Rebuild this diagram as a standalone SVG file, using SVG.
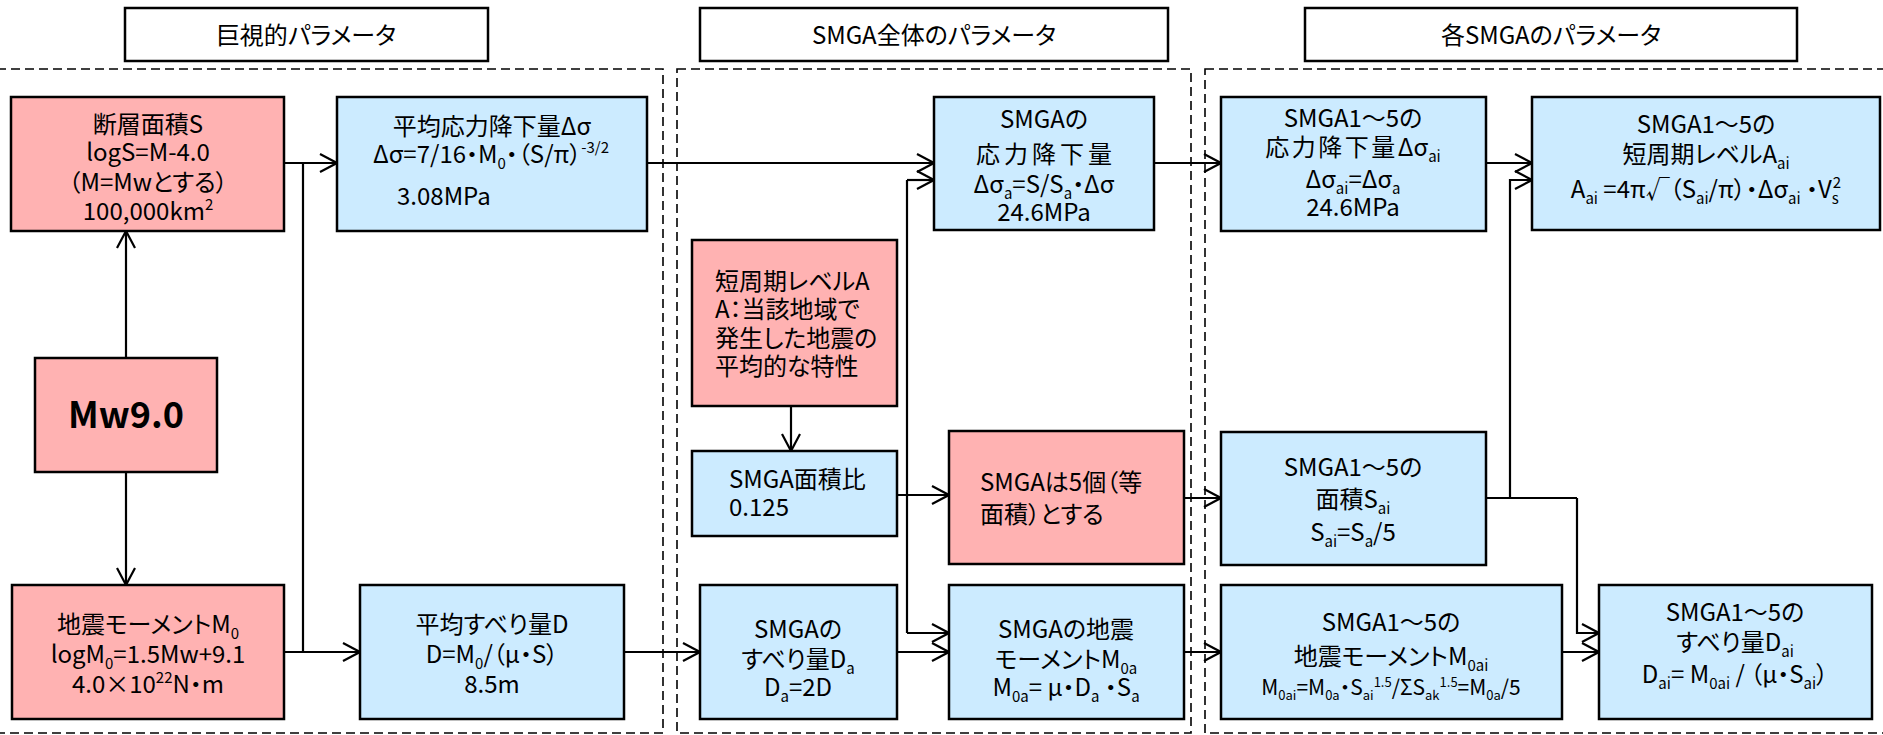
<svg xmlns="http://www.w3.org/2000/svg" width="1883" height="735" viewBox="0 0 1883 735">
<style>
.t{font-family:'Noto Sans CJK JP','Noto Sans',sans-serif;font-size:24px;fill:#000;font-feature-settings:'palt'}
.c{text-anchor:middle}
.s{font-size:15px}
.f{font-size:21px}
.fs{font-size:13px}
.b{font-weight:bold;font-size:36px}
.pk{fill:#FFB2B2;stroke:#000;stroke-width:2.5}
.bl{fill:#CCEBFF;stroke:#000;stroke-width:2.5}
.ti{fill:#fff;stroke:#000;stroke-width:2.5}
.reg{fill:none;stroke:#000;stroke-width:1.6;stroke-dasharray:9 5}
.ln{fill:none;stroke:#000;stroke-width:2.2}
.ar{fill:none;stroke:#000;stroke-width:2.2;marker-end:url(#ah)}
</style>
<defs>
<marker id="ah" viewBox="0 0 20 20" markerWidth="20" markerHeight="20" refX="18" refY="10" markerUnits="userSpaceOnUse" orient="auto">
<path d="M1,1 L18,10 L1,19" fill="none" stroke="#000" stroke-width="2.2"/>
</marker>
</defs>
<rect width="1883" height="735" fill="#fff"/>

<g id="regions">
<rect class="reg" x="-3" y="69" width="666" height="664"/>
<rect class="reg" x="677" y="69" width="514" height="664"/>
<rect class="reg" x="1205" y="69" width="690" height="664"/>
</g>

<g id="title1"><rect class="ti" x="125" y="8" width="363" height="53"/><text class="t c" x="306" y="44">巨視的パラメータ</text></g>
<g id="title2"><rect class="ti" x="700" y="8" width="468" height="53"/><text class="t c" x="934" y="44">SMGA全体のパラメータ</text></g>
<g id="title3"><rect class="ti" x="1305" y="8" width="492" height="53"/><text class="t c" x="1551" y="44">各SMGAのパラメータ</text></g>

<g id="connectors">
<path class="ar" d="M126,358 V231"/>
<path class="ar" d="M126,472 V585"/>
<path class="ar" d="M284,163 H337"/>
<path class="ln" d="M303,163 V652"/>
<path class="ar" d="M284,652 H360"/>
<path class="ar" d="M647,163 H934"/>
<path class="ar" d="M624,652 H700"/>
<path class="ar" d="M791,406 V451"/>
<path class="ar" d="M897,495 H949"/>
<path class="ln" d="M907,180 V633"/>
<path class="ar" d="M907,180 H934"/>
<path class="ar" d="M907,633 H949"/>
<path class="ar" d="M897,652 H949"/>
<path class="ar" d="M1154,163 H1221"/>
<path class="ar" d="M1184,498 H1221"/>
<path class="ar" d="M1184,652 H1221"/>
<path class="ar" d="M1486,163 H1532"/>
<path class="ln" d="M1486,498 H1577"/>
<path class="ar" d="M1510,498 V180 H1532"/>
<path class="ar" d="M1577,498 V633 H1599"/>
<path class="ar" d="M1562,652 H1599"/>
</g>

<g id="n_S">
<rect class="pk" x="11" y="97" width="273" height="134"/>
<text class="t c" x="148" y="133">断層面積S</text>
<text class="t c" x="148" y="161">logS=M-4.0</text>
<text class="t c" x="148" y="191">（M=Mwとする）</text>
<text class="t c" x="148" y="220">100,000km<tspan class="s" dy="-10">2</tspan></text>
</g>

<g id="n_Mw">
<rect class="pk" x="35" y="358" width="182" height="114"/>
<text class="t c b" x="126" y="428">Mw9.0</text>
</g>

<g id="n_M0">
<rect class="pk" x="12" y="585" width="272" height="134"/>
<text class="t c" x="148" y="633">地震モーメントM<tspan class="s" dy="6">0</tspan></text>
<text class="t c" x="148" y="663">logM<tspan class="s" dy="6">0</tspan><tspan dy="-6">=1.5Mw+9.1</tspan></text>
<text class="t c" x="148" y="693">4.0×10<tspan class="s" dy="-10">22</tspan><tspan dy="10">N・m</tspan></text>
</g>

<g id="n_dsigma">
<rect class="bl" x="337" y="97" width="310" height="134"/>
<text class="t c" x="492" y="135">平均応力降下量Δσ</text>
<text class="t c" x="491" y="163">Δσ=7/16・M<tspan class="s" dy="6">0</tspan><tspan dy="-6">・（S/π）</tspan><tspan class="s" dy="-10">-3/2</tspan></text>
<text class="t" x="397" y="205">3.08MPa</text>
</g>

<g id="n_D">
<rect class="bl" x="360" y="585" width="264" height="134"/>
<text class="t c" x="492" y="633">平均すべり量D</text>
<text class="t c" x="492" y="663">D=M<tspan class="s" dy="6">0</tspan><tspan dy="-6">/（μ・S）</tspan></text>
<text class="t c" x="492" y="693">8.5m</text>
</g>

<g id="n_A">
<rect class="pk" x="692" y="240" width="205" height="166"/>
<text class="t" x="715" y="290">短周期レベルA</text>
<text class="t" x="715" y="318">A：当該地域で</text>
<text class="t" x="715" y="347">発生した地震の</text>
<text class="t" x="715" y="375">平均的な特性</text>
</g>

<g id="n_ratio">
<rect class="bl" x="692" y="451" width="205" height="85"/>
<text class="t" x="729" y="488">SMGA面積比</text>
<text class="t" x="729" y="516">0.125</text>
</g>

<g id="n_five">
<rect class="pk" x="949" y="431" width="235" height="133"/>
<text class="t" x="980" y="491">SMGAは5個（等</text>
<text class="t" x="980" y="523">面積）とする</text>
</g>

<g id="n_sa">
<rect class="bl" x="934" y="97" width="220" height="133"/>
<text class="t c" x="1044" y="128">SMGAの</text>
<text class="t c" x="1046" y="163" letter-spacing="4">応力降下量</text>
<text class="t c" x="1044" y="193">Δσ<tspan class="s" dy="6">a</tspan><tspan dy="-6">=S/S</tspan><tspan class="s" dy="6">a</tspan><tspan dy="-6">・Δσ</tspan></text>
<text class="t c" x="1044" y="221">24.6MPa</text>
</g>

<g id="n_Da">
<rect class="bl" x="700" y="585" width="197" height="134"/>
<text class="t c" x="798" y="638">SMGAの</text>
<text class="t c" x="798" y="668">すべり量D<tspan class="s" dy="6">a</tspan></text>
<text class="t c" x="798" y="696">D<tspan class="s" dy="6">a</tspan><tspan dy="-6">=2D</tspan></text>
</g>

<g id="n_M0a">
<rect class="bl" x="949" y="585" width="235" height="134"/>
<text class="t c" x="1066" y="638">SMGAの地震</text>
<text class="t c" x="1066" y="668">モーメントM<tspan class="s" dy="6">0a</tspan></text>
<text class="t c" x="1066" y="696">M<tspan class="s" dy="6">0a</tspan><tspan dy="-6">= μ・D</tspan><tspan class="s" dy="6">a</tspan><tspan dy="-6"> ・S</tspan><tspan class="s" dy="6">a</tspan></text>
</g>

<g id="n_sai">
<rect class="bl" x="1221" y="97" width="265" height="134"/>
<text class="t c" x="1353" y="127">SMGA1～5の</text>
<text class="t c" x="1353" y="156"><tspan letter-spacing="2.5">応力降下量</tspan>Δσ<tspan class="s" dy="6">ai</tspan></text>
<text class="t c" x="1353" y="188">Δσ<tspan class="s" dy="6">ai</tspan><tspan dy="-6">=Δσ</tspan><tspan class="s" dy="6">a</tspan></text>
<text class="t c" x="1353" y="216">24.6MPa</text>
</g>

<g id="n_Aai">
<rect class="bl" x="1532" y="97" width="348" height="133"/>
<text class="t c" x="1706" y="133">SMGA1～5の</text>
<text class="t c" x="1706" y="163">短周期レベルA<tspan class="s" dy="6">ai</tspan></text>
<text class="t c" x="1706" y="198">A<tspan class="s" dy="6">ai</tspan><tspan dy="-6"> =4π√（S</tspan><tspan class="s" dy="6">ai</tspan><tspan dy="-6">/π）・Δσ</tspan><tspan class="s" dy="6">ai</tspan><tspan dy="-6"> ・V</tspan><tspan class="s" dy="6">s</tspan><tspan class="s" dx="-6" dy="-16">2</tspan></text>
</g>

<g id="n_Sai">
<rect class="bl" x="1221" y="432" width="265" height="133"/>
<text class="t c" x="1353" y="476">SMGA1～5の</text>
<text class="t c" x="1353" y="508">面積S<tspan class="s" dy="6">ai</tspan></text>
<text class="t c" x="1353" y="541">S<tspan class="s" dy="6">ai</tspan><tspan dy="-6">=S</tspan><tspan class="s" dy="6">a</tspan><tspan dy="-6">/5</tspan></text>
</g>

<g id="n_M0ai">
<rect class="bl" x="1221" y="585" width="341" height="134"/>
<text class="t c" x="1391" y="631">SMGA1～5の</text>
<text class="t c" x="1391" y="665">地震モーメントM<tspan class="s" dy="6">0ai</tspan></text>
<text class="t c f" x="1391" y="695">M<tspan class="fs" dy="5">0ai</tspan><tspan dy="-5">=M</tspan><tspan class="fs" dy="5">0a</tspan><tspan dy="-5">・S</tspan><tspan class="fs" dy="5">ai</tspan><tspan class="fs" dy="-13">1.5</tspan><tspan dy="8">/ΣS</tspan><tspan class="fs" dy="5">ak</tspan><tspan class="fs" dy="-13">1.5</tspan><tspan dy="8">=M</tspan><tspan class="fs" dy="5">0a</tspan><tspan dy="-5">/5</tspan></text>
</g>

<g id="n_Dai">
<rect class="bl" x="1599" y="585" width="273" height="134"/>
<text class="t c" x="1735" y="621">SMGA1～5の</text>
<text class="t c" x="1735" y="651">すべり量D<tspan class="s" dy="6">ai</tspan></text>
<text class="t c" x="1735" y="683">D<tspan class="s" dy="6">ai</tspan><tspan dy="-6">= M</tspan><tspan class="s" dy="6">0ai</tspan><tspan dy="-6"> / （μ・S</tspan><tspan class="s" dy="6">ai</tspan><tspan dy="-6">）</tspan></text>
</g>
</svg>
